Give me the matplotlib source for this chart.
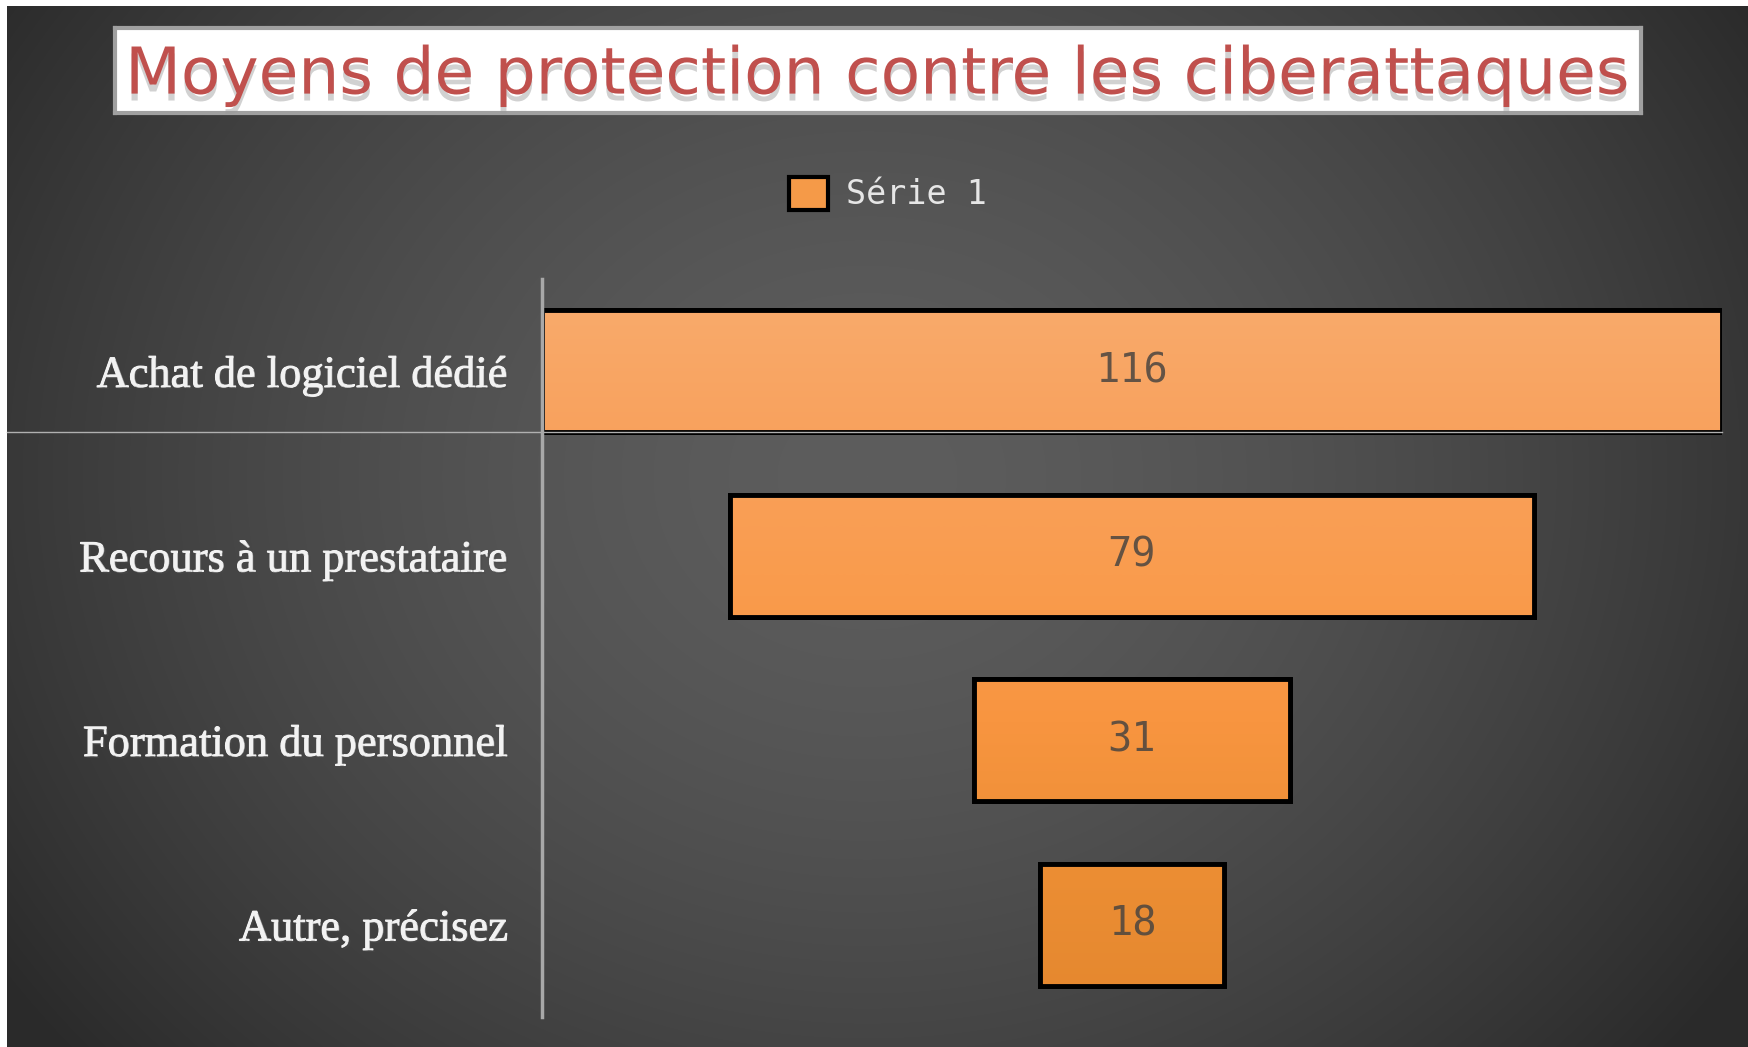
import numpy as np
import matplotlib
matplotlib.use("Agg")
import matplotlib.pyplot as plt
import matplotlib.patheffects as pe
from matplotlib.colors import LinearSegmentedColormap, to_rgb

# donnees
categories = ["Achat de logiciel dédié", "Recours à un prestataire",
              "Formation du personnel", "Autre, précisez"]
valeurs = [116, 79, 31, 18]
serie = "Série 1"
titre = "Moyens de protection contre les ciberattaques"

W, H = 1748, 1047
fig = plt.figure(figsize=(W / 100, H / 100), dpi=100)
fig.patch.set_facecolor("white")

# fond sombre avec degrade radial
bg = fig.add_axes([7 / W, 0, 1 - 7 / W, 1 - 6 / H])
bg.set_axis_off()
yy, xx = np.mgrid[0:1041, 0:1741]
r = np.sqrt(((xx - 860) / 1050.0) ** 2 + ((yy - 470) / 900.0) ** 2)
t = np.clip(r, 0, 1) ** 1.6
c0 = np.array(to_rgb("#5d5d5d"))
c1 = np.array(to_rgb("#2a2a2a"))
img = c0[None, None, :] * (1 - t[..., None]) + c1[None, None, :] * t[..., None]
bg.imshow(img, aspect="auto", interpolation="bilinear")

# cadre du titre
tb = fig.add_axes([115 / W, 1 - 113 / H, (1641 - 115) / W, (113 - 28) / H])
tb.set_xticks([])
tb.set_yticks([])
tb.set_facecolor("white")
for s in tb.spines.values():
    s.set_color("#a0a0a0")
    s.set_linewidth(3)
tb.text(0.5, 0.44, titre, ha="center", va="center", color="#c0504d",
        fontsize=46.5, family="DejaVu Sans", transform=tb.transAxes,
        path_effects=[pe.SimplePatchShadow(offset=(0, -5), shadow_rgbFace="#9a9a9a", alpha=0.45),
                      pe.Normal()])

# graphique
ax = fig.add_axes([542 / W, 1 - 1017 / H, (1722 - 542) / W, (1017 - 279) / H])
ax.set_facecolor("none")
y = np.arange(len(categories))
h = 0.66
bars = ax.barh(y, valeurs, left=[-v / 2 for v in valeurs], height=h,
               color="#f59a48", edgecolor="black", linewidth=3.5, label=serie, zorder=3)

# degrade orange vertical
cmap = LinearSegmentedColormap.from_list("orange", ["#f9ac6e", "#f8a25e", "#fa9c4e",
                                                     "#f89540", "#ec8e34", "#e4872e"])
grad = np.linspace(0, 1, 200)[:, None]
for b in bars:
    x0, y0 = b.get_x(), b.get_y()
    ww, hh = b.get_width(), b.get_height()
    f0 = (y0 + 0.5) / 4.0
    f1 = (y0 + hh + 0.5) / 4.0
    g = f0 + (f1 - f0) * grad
    im = ax.imshow(g, cmap=cmap, vmin=0, vmax=1, extent=[x0, x0 + ww, y0 + hh, y0],
                   aspect="auto", zorder=3.5, interpolation="bilinear")
    im.set_clip_path(b)
    ax.add_patch(plt.Rectangle((x0, y0), ww, hh, fill=False, edgecolor="black",
                               linewidth=3.5, zorder=4))

for yi, v in zip(y, valeurs):
    ax.text(0, yi, str(v), ha="center", va="center", fontsize=29, family="DejaVu Sans Mono",
            color="#4a4540", alpha=0.85, zorder=5)

ax.set_xlim(-58, 58)
ax.set_ylim(3.5, -0.5)
ax.set_xticks([])
ax.set_yticks(y)
ax.set_yticklabels(categories, family="Liberation Serif", fontsize=32, color="#f2f2f2")
for lab in ax.get_yticklabels():
    lab.set_path_effects([pe.withStroke(linewidth=0.8, foreground="#f2f2f2"),
                          pe.SimplePatchShadow(offset=(1.5, -1.5), alpha=0.5), pe.Normal()])
ax.tick_params(axis="y", length=0, pad=24)
for s in ["top", "right", "bottom"]:
    ax.spines[s].set_visible(False)
ax.spines["left"].set_color("#a8a8a8")
ax.spines["left"].set_linewidth(2.5)
ax.spines["left"].set_zorder(6)

# ligne claire sous la premiere barre
ax.axhline(0 + h / 2, xmin=(7 - 542) / 1180, xmax=1, color="#b0b0b0", linewidth=1,
           clip_on=False, zorder=4.5)

leg = ax.legend(loc="center", bbox_to_anchor=(888 / W, 1 - 194 / H),
                bbox_transform=fig.transFigure, frameon=False, handlelength=1.15,
                handleheight=1.15, handletextpad=0.55,
                prop={"family": "DejaVu Sans Mono", "size": 24})
for txt in leg.get_texts():
    txt.set_color("#e6e6e6")
for hdl in leg.legend_handles:
    hdl.set_linewidth(3)

fig.savefig("out.png", dpi=100, facecolor=fig.get_facecolor())
